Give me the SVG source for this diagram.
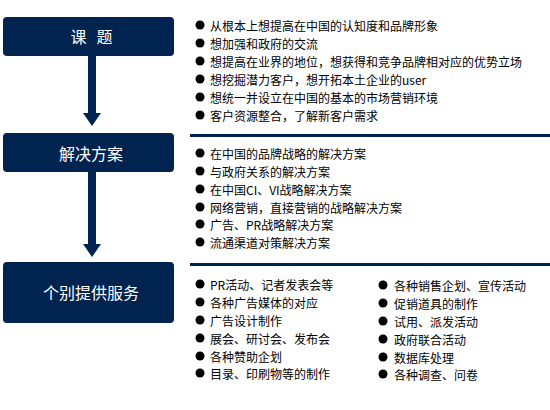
<svg xmlns="http://www.w3.org/2000/svg" width="550" height="410" viewBox="0 0 550 410">
<style>
.box{fill:#00234f}
.bt{fill:#fff;font-family:"Noto Sans CJK SC","Noto Sans",sans-serif;font-size:16px;text-anchor:middle;dominant-baseline:central}
.t{fill:#000;font-family:"Noto Sans CJK SC","Noto Sans",sans-serif;font-size:12px;dominant-baseline:central}
.dot{fill:#000}
.rule{stroke:#00234f;stroke-width:3}
.arrow{fill:#00234f}
</style>
<rect width="550" height="410" fill="#fff"/>
<g id="connectors">
<polygon class="arrow" points="88,56 96,56 96,113 101,113 92,126 83,113 88,113"/>
<polygon class="arrow" points="88,172 96,172 96,244 101,244 92,257 83,244 88,244"/>
</g>
<g id="node-1">
<rect class="box" x="3" y="17" width="171" height="39" rx="4"/>
<text class="bt" y="36"><tspan x="78.5">课</tspan><tspan x="104.5">题</tspan></text>
</g>
<g id="node-2">
<rect class="box" x="3" y="133" width="171" height="39" rx="4"/>
<text class="bt" x="91" y="153">解决方案</text>
</g>
<g id="node-3">
<rect class="box" x="3" y="262" width="171" height="61" rx="4"/>
<text class="bt" x="91" y="292">个别提供服务</text>
</g>
<g id="list-1">
<circle class="dot" cx="200" cy="25" r="4.5"/><text class="t" x="210" y="25">从根本上想提高在中国的认知度和品牌形象</text>
<circle class="dot" cx="200" cy="43" r="4.5"/><text class="t" x="210" y="43">想加强和政府的交流</text>
<circle class="dot" cx="200" cy="61" r="4.5"/><text class="t" x="210" y="61">想提高在业界的地位，想获得和竞争品牌相对应的优势立场</text>
<circle class="dot" cx="200" cy="79" r="4.5"/><text class="t" x="210" y="79">想挖掘潜力客户，想开拓本土企业的user</text>
<circle class="dot" cx="200" cy="97" r="4.5"/><text class="t" x="210" y="97">想统一并设立在中国的基本的市场营销环境</text>
<circle class="dot" cx="200" cy="115" r="4.5"/><text class="t" x="210" y="115">客户资源整合，了解新客户需求</text>
</g>
<g id="list-2">
<line class="rule" x1="190" y1="135.5" x2="550" y2="135.5"/>
<circle class="dot" cx="200" cy="153" r="4.5"/><text class="t" x="210" y="153">在中国的品牌战略的解决方案</text>
<circle class="dot" cx="200" cy="171" r="4.5"/><text class="t" x="210" y="171">与政府关系的解决方案</text>
<circle class="dot" cx="200" cy="189" r="4.5"/><text class="t" x="210" y="189">在中国CI、VI战略解决方案</text>
<circle class="dot" cx="200" cy="207" r="4.5"/><text class="t" x="210" y="207">网络营销，直接营销的战略解决方案</text>
<circle class="dot" cx="200" cy="224" r="4.5"/><text class="t" x="210" y="224">广告、PR战略解决方案</text>
<circle class="dot" cx="200" cy="242" r="4.5"/><text class="t" x="210" y="242">流通渠道对策解决方案</text>
</g>
<g id="list-3">
<line class="rule" x1="190" y1="264.5" x2="550" y2="264.5"/>
<circle class="dot" cx="200" cy="284" r="4.5"/><text class="t" x="210" y="284">PR活动、记者发表会等</text>
<circle class="dot" cx="200" cy="302" r="4.5"/><text class="t" x="210" y="302">各种广告媒体的对应</text>
<circle class="dot" cx="200" cy="320" r="4.5"/><text class="t" x="210" y="320">广告设计制作</text>
<circle class="dot" cx="200" cy="338" r="4.5"/><text class="t" x="210" y="338">展会、研讨会、发布会</text>
<circle class="dot" cx="200" cy="356" r="4.5"/><text class="t" x="210" y="356">各种赞助企划</text>
<circle class="dot" cx="200" cy="373" r="4.5"/><text class="t" x="210" y="373">目录、印刷物等的制作</text>
<circle class="dot" cx="383" cy="285" r="4.5"/><text class="t" x="394" y="285">各种销售企划、宣传活动</text>
<circle class="dot" cx="383" cy="303" r="4.5"/><text class="t" x="394" y="303">促销道具的制作</text>
<circle class="dot" cx="383" cy="321" r="4.5"/><text class="t" x="394" y="321">试用、派发活动</text>
<circle class="dot" cx="383" cy="339" r="4.5"/><text class="t" x="394" y="339">政府联合活动</text>
<circle class="dot" cx="383" cy="357" r="4.5"/><text class="t" x="394" y="357">数据库处理</text>
<circle class="dot" cx="383" cy="374" r="4.5"/><text class="t" x="394" y="374">各种调查、问卷</text>
</g>
</svg>
